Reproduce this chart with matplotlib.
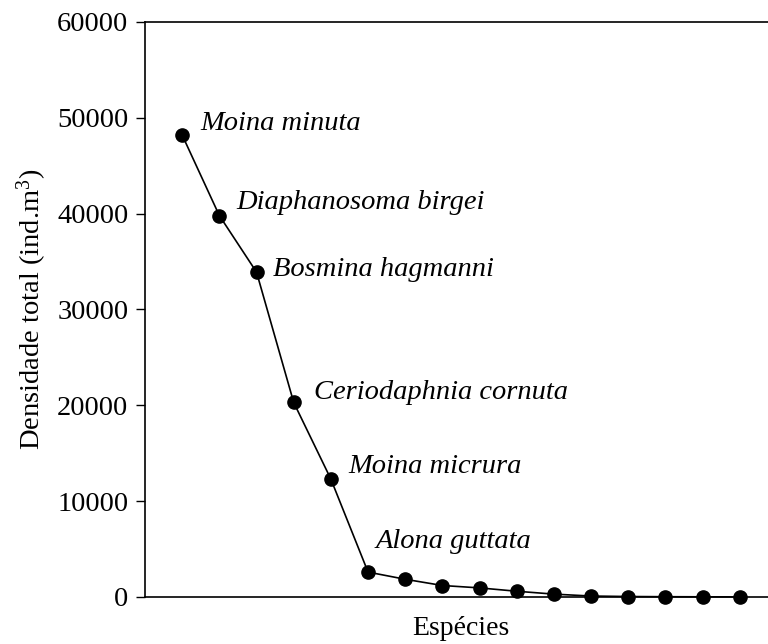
import matplotlib.pyplot as plt

plt.rcParams['font.family'] = ['Liberation Serif', 'DejaVu Serif']
plt.rcParams['mathtext.fontset'] = 'custom'
plt.rcParams['mathtext.rm'] = 'Liberation Serif'
plt.rcParams['mathtext.it'] = 'Liberation Serif:italic'

# posição de cada espécie no eixo x e densidade total (ind.m3)
especies = list(range(1, 17))
densidade = [48200, 39800, 33900, 20300, 12300, 2600, 1850, 1200, 950, 600,
             300, 100, 50, 30, 20, 10]
nomes = ['Moina minuta', 'Diaphanosoma birgei', 'Bosmina hagmanni',
         'Ceriodaphnia cornuta', 'Moina micrura', 'Alona guttata']
# deslocamento dos rótulos (pixels)
desloc = [(18, 12), (17, 13), (16, 3), (20, 10), (17, 13), (8, 31)]

fig = plt.figure(figsize=(7.68, 6.44), dpi=100)
ax = fig.add_axes([145 / 768, 1 - 597 / 644, (777 - 145) / 768, (597 - 22) / 644])

ax.plot(especies, densidade, color='black', lw=1.2, marker='o', markersize=9.5,
        clip_on=False, zorder=3)

for i, nome in enumerate(nomes):
    ax.annotate(nome, (especies[i], densidade[i]), xytext=desloc[i],
                textcoords='offset pixels', fontsize=20.5, style='italic',
                va='center', ha='left')

ax.set_xlim(0, 17)
ax.set_ylim(0, 60000)
ax.set_yticks(range(0, 60001, 10000))
ax.set_xticks([])
ax.tick_params(axis='y', direction='out', length=6.5, pad=5.5, labelsize=20.5, width=1)
ax.spines['right'].set_visible(False)
for s in ['left', 'top', 'bottom']:
    ax.spines[s].set_linewidth(1.2)

ax.set_ylabel('Densidade total (ind.m$^{3}$)', fontsize=20.5, labelpad=6)
ax.set_xlabel('Espécies', fontsize=20, labelpad=14)

fig.savefig('out.png', dpi=100)
